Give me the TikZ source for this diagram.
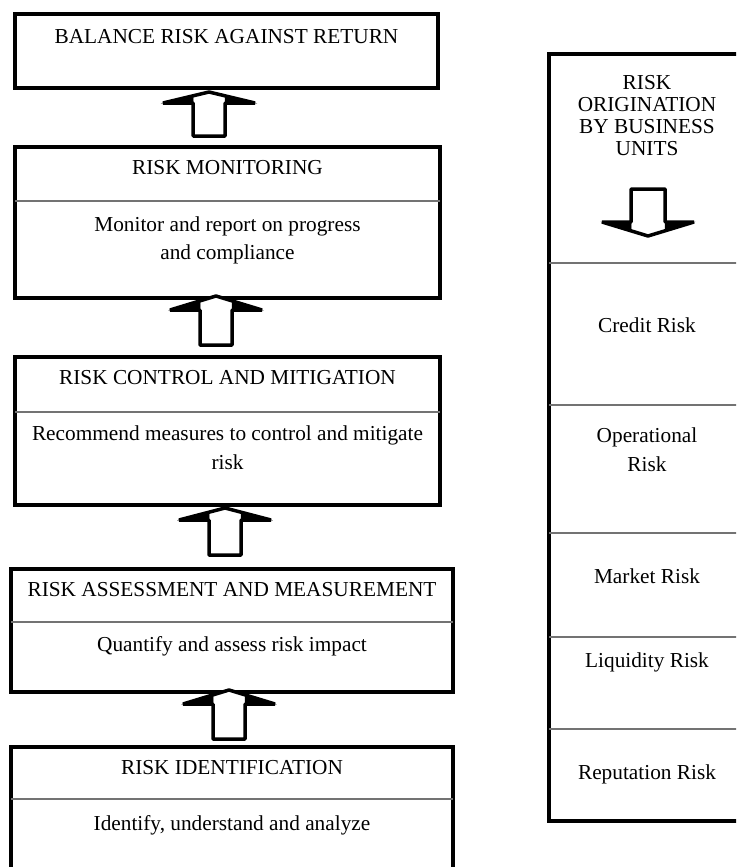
\documentclass[tikz,border=0pt]{standalone}
\usepackage{fontspec}
\setmainfont{Liberation Serif}
\tikzset{
  box/.style={draw, line width=4pt, rectangle, outer sep=0pt, inner sep=0pt, fill=white},
  divider/.style={draw=black!55, line width=1.3pt},
  txt/.style={anchor=base, align=center, inner sep=0pt, font=\fontsize{21.3}{22}\selectfont},
  blockarrow/.style={draw, line width=3.5pt, fill=white, line join=bevel},
  wing/.style={fill=black, draw=black, line width=0.5pt, line join=miter}
}
% up block arrow: centre x, tip y, wing y, bottom y
\newcommand{\blkup}[4]{%
  \draw[blockarrow] (#1-16,#4) -- (#1-16,#3) -- (#1-46,#3) -- (#1,#2) -- (#1+46,#3) -- (#1+16,#3) -- (#1+16,#4) -- cycle;
  \path[wing] (#1-46,#3) -- (#1-16,#3) -- ({#1-16},{#3-(30/46)*(#3-#2)}) -- cycle;
  \path[wing] (#1+46,#3) -- (#1+16,#3) -- ({#1+16},{#3-(30/46)*(#3-#2)}) -- cycle;}
% down block arrow: centre x, tip y, wing y, top y
\newcommand{\blkdown}[4]{%
  \draw[blockarrow] (#1-17,#4) -- (#1-17,#3) -- (#1-46,#3) -- (#1,#2) -- (#1+46,#3) -- (#1+17,#3) -- (#1+17,#4) -- cycle;
  \path[wing] (#1-46,#3) -- (#1-17,#3) -- ({#1-17},{#3+(29/46)*(#2-#3)}) -- cycle;
  \path[wing] (#1+46,#3) -- (#1+17,#3) -- ({#1+17},{#3+(29/46)*(#2-#3)}) -- cycle;}
\begin{document}
\begin{tikzpicture}[x=1pt, y=-1pt]
\path[use as bounding box] (0,0) rectangle (736,867);
\fill[white] (0,0) rectangle (736,867);
\clip (0,0) rectangle (736,867);

% ---- left column boxes
\node[box, minimum width=423pt, minimum height=74pt] (bal) at (226.5,51) {};
\node[box, minimum width=425pt, minimum height=151pt] (mon) at (227.5,222.5) {};
\node[box, minimum width=425pt, minimum height=148pt] (ctl) at (227.5,431) {};
\node[box, minimum width=442pt, minimum height=123pt] (ass) at (232,630.5) {};
\node[box, minimum width=442pt, minimum height=153pt] (idf) at (232,823.5) {};

\draw[divider] (mon.west |- 0,201) -- (mon.east |- 0,201);
\draw[divider] (ctl.west |- 0,412) -- (ctl.east |- 0,412);
\draw[divider] (ass.west |- 0,622) -- (ass.east |- 0,622);
\draw[divider] (idf.west |- 0,799) -- (idf.east |- 0,799);

% ---- arrows between boxes
\blkup{209}{92}{103}{136}
\blkup{216}{296}{310}{345}
\blkup{225}{508}{520}{555}
\blkup{229}{690}{704}{739}

% ---- texts left (base anchor = baseline of the last line)
\node[txt] (balt) at (226.5,44) {BALANCE RISK AGAINST RETURN};
\node[txt] (mont) at (227.5,174) {RISK MONITORING};
\node[txt, font=\fontsize{21.3}{28}\selectfont] (monb) at (227.5,259) {Monitor and report on progress\\and compliance};
\node[txt] (ctlt) at (227.5,384) {RISK CONTROL AND MITIGATION};
\node[txt, font=\fontsize{21.3}{29}\selectfont] (ctlb) at (227.5,469) {Recommend measures to control and mitigate\\risk};
\node[txt] (asst) at (232,596) {RISK ASSESSMENT AND MEASUREMENT};
\node[txt] (assb) at (232,651) {Quantify and assess risk impact};
\node[txt] (idft) at (232,774) {RISK IDENTIFICATION};
\node[txt] (idfb) at (232,830) {Identify, understand and analyze};

% ---- right column
\node[box, minimum width=211pt, minimum height=767pt] (org) at (654.5,437.5) {};
\draw[divider] (org.west |- 0,263) -- (org.east |- 0,263);
\draw[divider] (org.west |- 0,405) -- (org.east |- 0,405);
\draw[divider] (org.west |- 0,533) -- (org.east |- 0,533);
\draw[divider] (org.west |- 0,637) -- (org.east |- 0,637);
\draw[divider] (org.west |- 0,729) -- (org.east |- 0,729);

\node[txt] (orgt) at (647,155) {RISK\\ORIGINATION\\BY BUSINESS\\UNITS};
\blkdown{648}{236}{222}{189}
\node[txt] (cr) at (647,332) {Credit Risk};
\node[txt, font=\fontsize{21.3}{29}\selectfont] (op) at (647,471) {Operational\\Risk};
\node[txt] (mk) at (647,583) {Market Risk};
\node[txt] (lq) at (647,667) {Liquidity Risk};
\node[txt] (rp) at (647,779) {Reputation Risk};
\end{tikzpicture}
\end{document}
